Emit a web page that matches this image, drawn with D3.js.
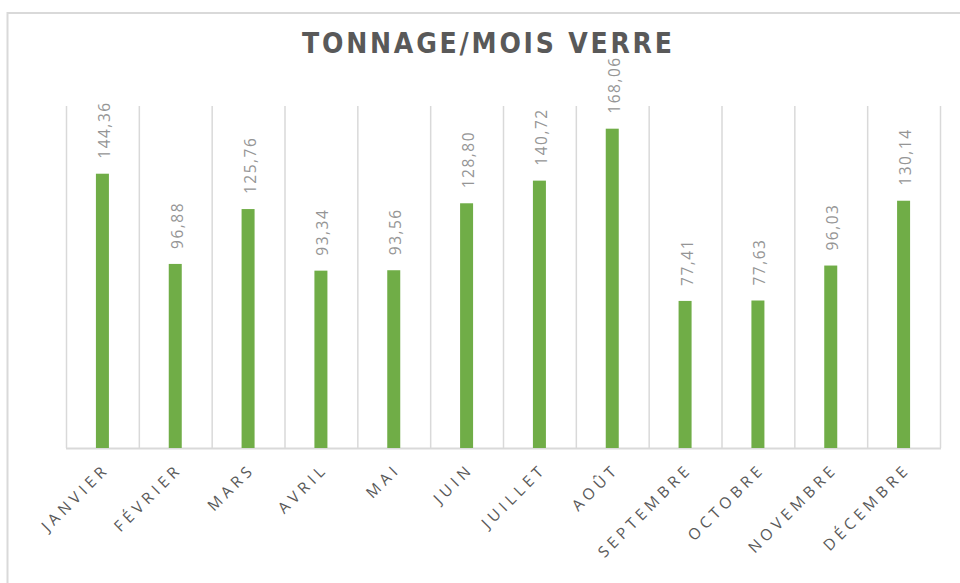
<!DOCTYPE html>
<html>
<head>
<meta charset="utf-8">
<script src="https://cdn.jsdelivr.net/npm/d3@7"></script>
<style>
  body { margin: 0; background: #fff; }
  svg { display: block; }
</style>
</head>
<body>
<div id="chart"></div>
<script>
// monthly glass tonnage
var months = ["JANVIER", "FÉVRIER", "MARS", "AVRIL", "MAI", "JUIN",
              "JUILLET", "AOÛT", "SEPTEMBRE", "OCTOBRE", "NOVEMBRE", "DÉCEMBRE"];
var tonnage = [144.36, 96.88, 125.76, 93.34, 93.56, 128.80,
               140.72, 168.06, 77.41, 77.63, 96.03, 130.14];
var title = "TONNAGE/MOIS VERRE";

var width = 960, height = 583;
var plot = {left: 66, right: 940, top: 106, bottom: 448};

var svg = d3.select("#chart").append("svg")
    .attr("width", width)
    .attr("height", height);

// chart frame (right and bottom edges run past the picture)
svg.append("rect")
    .attr("x", 7.5).attr("y", 13)
    .attr("width", 1000).attr("height", 700)
    .style("fill", "none")
    .style("stroke", "#d9d9d9")
    .style("stroke-width", 2);

var x = d3.scaleBand()
    .domain(months)
    .range([plot.left, plot.right])
    .padding(0);

var y = d3.scaleLinear()
    .domain([0, 180])
    .range([plot.bottom, plot.top]);

var fmt = function(v) { return v.toFixed(2).replace(".", ","); };

// vertical gridlines at category edges
var edges = months.map(function(m) { return x(m); }).concat([plot.right]);
svg.append("g").selectAll("line")
    .data(edges)
    .enter().append("line")
    .attr("x1", function(d) { return d + 0.5; })
    .attr("x2", function(d) { return d + 0.5; })
    .attr("y1", y(180))
    .attr("y2", y(0))
    .style("stroke", "#d9d9d9")
    .style("stroke-width", 1.5);

// baseline
svg.append("line")
    .attr("x1", plot.left).attr("x2", plot.right + 1)
    .attr("y1", y(0) + 0.5).attr("y2", y(0) + 0.5)
    .style("stroke", "#d9d9d9")
    .style("stroke-width", 2);

var barW = 13;

svg.append("g").selectAll("rect")
    .data(tonnage)
    .enter().append("rect")
    .attr("x", function(d, i) { return x(months[i]) + x.bandwidth() / 2 - barW / 2; })
    .attr("y", function(d) { return y(d); })
    .attr("width", barW)
    .attr("height", function(d) { return y(0) - y(d); })
    .style("fill", "#70ad47");

// value labels, rotated
svg.append("g").selectAll("text")
    .data(tonnage)
    .enter().append("text")
    .attr("transform", function(d, i) {
      var cx = x(months[i]) + x.bandwidth() / 2;
      return "translate(" + (cx + 7.5) + "," + (y(d) - 15) + ") rotate(-90)";
    })
    .attr("text-anchor", "start")
    .style("font-family", "Open Sans, sans-serif")
    .style("font-size", "15.5px")
    .style("letter-spacing", "1.5px")
    .style("fill", "#959595")
    .text(function(d) { return fmt(d); });

// category labels, slanted
svg.append("g").selectAll("text")
    .data(months)
    .enter().append("text")
    .attr("transform", function(d) {
      var cx = x(d) + x.bandwidth() / 2;
      return "translate(" + (cx + 8) + "," + (plot.bottom + 22) + ") rotate(-45)";
    })
    .attr("text-anchor", "end")
    .style("font-family", "Open Sans, sans-serif")
    .style("font-size", "15.5px")
    .style("letter-spacing", "4.4px")
    .style("fill", "#595959")
    .text(function(d) { return d; });

// title
svg.append("text")
    .attr("x", 302)
    .attr("y", 53)
    .attr("textLength", 370)
    .attr("lengthAdjust", "spacing")
    .style("font-family", "DejaVu Sans Condensed, DejaVu Sans, sans-serif")
    .style("font-stretch", "condensed")
    .style("font-weight", "bold")
    .style("font-size", "28px")
    .style("fill", "#595959")
    .text(title);
</script>
</body>
</html>
